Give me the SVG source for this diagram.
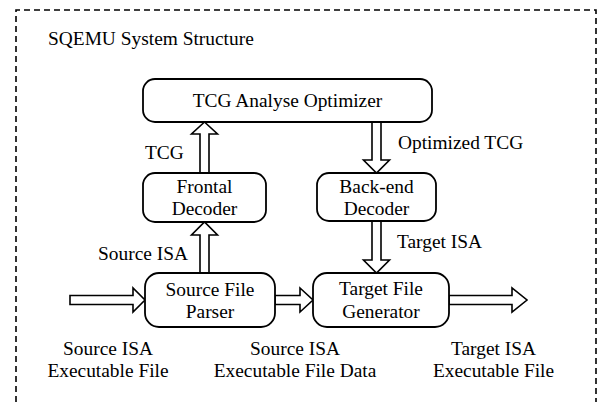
<svg xmlns="http://www.w3.org/2000/svg" width="603" height="402" viewBox="0 0 603 402">
<style>
text{font-family:'Liberation Serif','Times New Roman',Times,'DejaVu Serif',serif;font-size:19.4px;fill:#000}
.c{text-anchor:middle}
.box{fill:#fff;stroke:#000;stroke-width:1.8}
.arr{fill:#fff;stroke:#000;stroke-width:1.6;stroke-linejoin:miter}
.border{fill:none;stroke:#000;stroke-width:1.6;stroke-dasharray:6 4}
</style>
<rect width="603" height="402" fill="#fff"/>
<path class="border" d="M16,402 V10 H596 V402"/>
<g font-family="Liberation Serif, Times New Roman, serif">
<text x="48" y="45">SQEMU System Structure</text>

<g id="connectors">
  <polygon class="arr" points="200,173 200,134 191.5,134 204.5,122 217.5,134 209,134 209,173"/>
  <polygon class="arr" points="200,273 200,235 191.5,235 204.5,222 217.5,235 209,235 209,273"/>
  <polygon class="arr" points="372,122 372,160 363.5,160 376.5,173 389.5,160 381,160 381,122"/>
  <polygon class="arr" points="372,221 372,260 363.5,260 376.5,273 389.5,260 381,260 381,221"/>
  <polygon class="arr" points="70,295.5 133,295.5 133,288 145,300 133,312 133,304.5 70,304.5"/>
  <polygon class="arr" points="275,295.5 300,295.5 300,288 313,300 300,312 300,304.5 275,304.5"/>
  <polygon class="arr" points="449,295.5 512,295.5 512,288 527,300 512,312 512,304.5 449,304.5"/>
  <text x="145" y="159">TCG</text>
  <text x="98" y="260">Source ISA</text>
  <text x="398" y="149">Optimized TCG</text>
  <text x="397" y="248">Target ISA</text>
</g>

<g id="optimizer">
  <rect class="box" x="143" y="79" width="289" height="43" rx="12"/>
  <text class="c" x="287.5" y="107">TCG Analyse Optimizer</text>
</g>
<g id="frontal">
  <rect class="box" x="143" y="173" width="123" height="49" rx="12"/>
  <text class="c" x="204.5" y="193">Frontal</text>
  <text class="c" x="204.5" y="215">Decoder</text>
</g>
<g id="backend">
  <rect class="box" x="317" y="173" width="119" height="48" rx="12"/>
  <text class="c" x="376.5" y="193">Back-end</text>
  <text class="c" x="376.5" y="215">Decoder</text>
</g>
<g id="parser">
  <rect class="box" x="145" y="273" width="130" height="54" rx="14"/>
  <text class="c" x="210" y="296">Source File</text>
  <text class="c" x="210" y="318">Parser</text>
</g>
<g id="generator">
  <rect class="box" x="313" y="273" width="136" height="54" rx="14"/>
  <text class="c" x="381" y="295">Target File</text>
  <text class="c" x="381" y="318">Generator</text>
</g>
<g id="label-src-file">
  <text class="c" x="108" y="355">Source ISA</text>
  <text class="c" x="108" y="377">Executable File</text>
</g>
<g id="label-src-data">
  <text class="c" x="295" y="355">Source ISA</text>
  <text class="c" x="295" y="377">Executable File Data</text>
</g>
<g id="label-tgt-file">
  <text class="c" x="493.5" y="355">Target ISA</text>
  <text class="c" x="493.5" y="377">Executable File</text>
</g>
</g>
</svg>
